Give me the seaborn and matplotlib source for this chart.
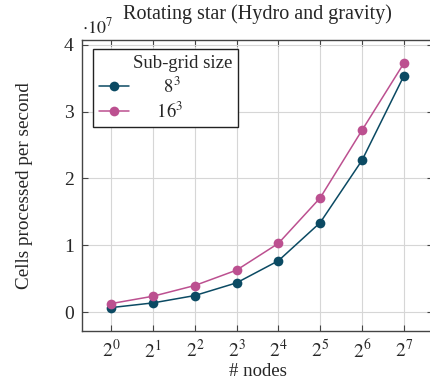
import numpy as np
import pandas as pd
import matplotlib
matplotlib.use("Agg")
import matplotlib.pyplot as plt
import seaborn as sns

# data (cells processed per second)
nodes = [1, 2, 4, 8, 16, 32, 64, 128]
cells_8 = [0.07e7, 0.14e7, 0.25e7, 0.44e7, 0.77e7, 1.34e7, 2.27e7, 3.53e7]
cells_16 = [0.13e7, 0.24e7, 0.40e7, 0.63e7, 1.03e7, 1.71e7, 2.72e7, 3.72e7]
labels = [r'$8^3$', r'$16^3$']
colors = ['#0b4a63', '#bc5090']

sns.set_style('ticks')
plt.rcParams['font.family'] = ['Liberation Serif', 'DejaVu Serif']
plt.rcParams['mathtext.fontset'] = 'stix'
plt.rcParams['font.size'] = 13

df = pd.DataFrame({
    'nodes': nodes * 2,
    'cells': np.array(cells_8 + cells_16) / 1e7,
    'grid': [labels[0]] * len(nodes) + [labels[1]] * len(nodes),
})
df['lognodes'] = np.log2(df['nodes'])

fig = plt.figure(figsize=(4.31, 3.79), dpi=100)
ax = fig.add_axes([82 / 431, 1 - 331 / 379, 351 / 431, 291 / 379])

sns.lineplot(data=df, x='lognodes', y='cells', hue='grid', palette=colors,
             marker='o', markersize=7, markeredgewidth=0, linewidth=1.1,
             ax=ax)

ax.set_xlim(-0.7, 7.7)
ax.set_ylim(-0.28, 4.07)
ax.set_xticks(np.log2(nodes))
ax.set_xticklabels([r'$2^{%d}$' % k for k in range(len(nodes))])
ax.set_yticks([0, 1, 2, 3, 4])
ax.grid(True, color='#d6d6d6', linewidth=0.8)
ax.set_axisbelow(True)
ax.tick_params(direction='in', length=4, width=0.8, color='#444444',
               top=True, right=True, labelsize=14, pad=6)
for s in ax.spines.values():
    s.set_color('#444444')
    s.set_linewidth(1.0)

ax.set_xlabel('# nodes', fontsize=13.5, labelpad=1)
ax.set_ylabel('Cells processed per second', fontsize=13.8, labelpad=22)
ax.set_title('Rotating star (Hydro and gravity)', fontsize=14.5, pad=15)
ax.text(0.0, 1.01, r'$\cdot 10^{7}$', transform=ax.transAxes,
        fontsize=13, ha='left', va='bottom')

# legend box about 145 px wide, title sits over the label column
leg = ax.legend(title='Sub-grid size', loc='upper left',
                bbox_to_anchor=(0.031, 0.969 - 0.27, 145 / 351, 0.27),
                mode='expand', borderaxespad=0,
                frameon=True, fancybox=False, alignment='right',
                edgecolor='#222222', framealpha=1, handlelength=1.65,
                handletextpad=0.3, borderpad=0.3, labelspacing=0.25,
                fontsize=13.5, title_fontsize=13.5)
leg.get_frame().set_linewidth(1.0)
centred = [r'$\hspace{2.1}8^3$', r'$\hspace{1.6}16^3$']
for t, lab in zip(leg.get_texts(), centred):
    t.set_text(lab)

fig.savefig('out.png', dpi=100)
